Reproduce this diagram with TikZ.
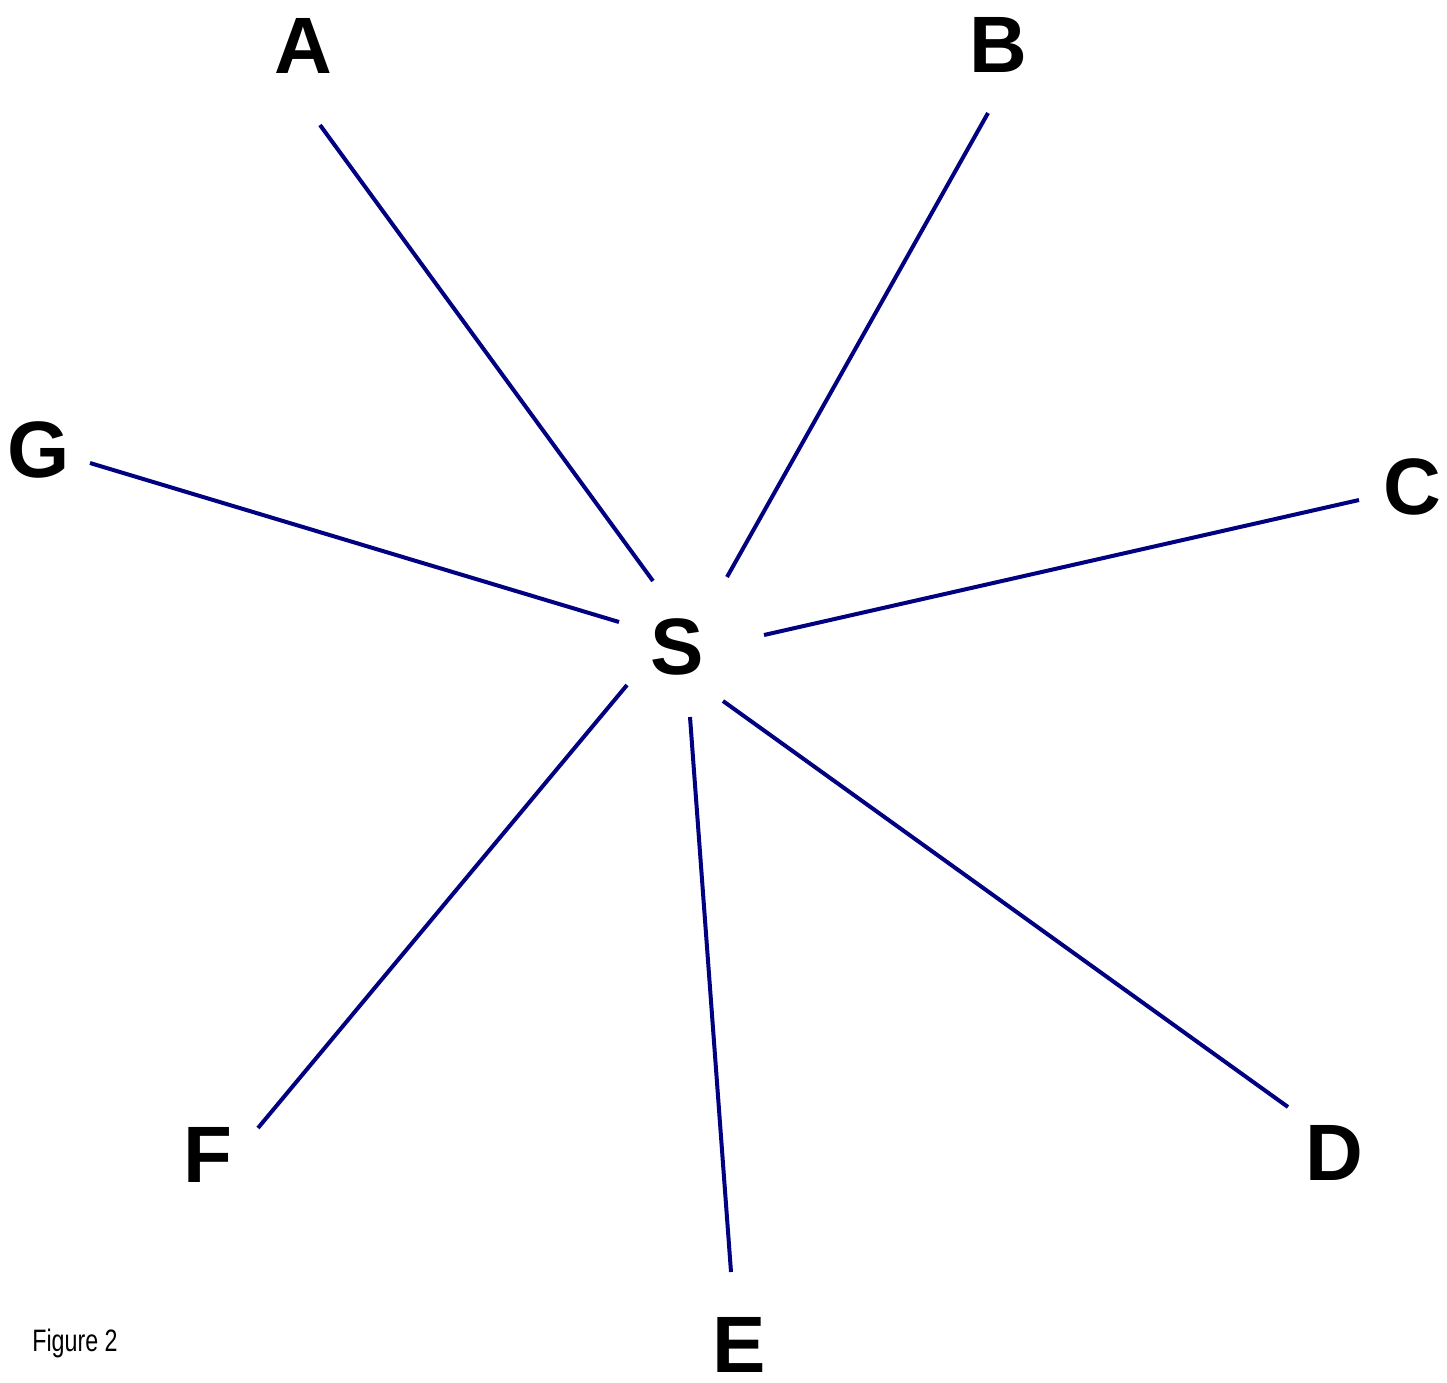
\documentclass[tikz,border=0pt]{standalone}
\usepackage{fontspec}
\setmainfont{Liberation Sans}
\newfontfamily\narrowfont[FakeStretch=0.75]{Liberation Sans}
\definecolor{navyline}{RGB}{0,0,128}
\begin{document}
\begin{tikzpicture}[x=1pt,y=-1pt,
  lbl/.style={inner sep=0pt,font=\fontsize{80}{80}\selectfont\bfseries},
  ray/.style={draw=navyline,line width=4pt}]
\useasboundingbox (0,0) rectangle (1447,1382);
\node[lbl] (S) at (677,647) {S};
\node[lbl] (A) at (303,46) {A};
\node[lbl] (B) at (998,45) {B};
\node[lbl] (C) at (1412,487) {C};
\node[lbl] (G) at (39,450) {G};
\node[lbl] (F) at (208,1155) {F};
\node[lbl] (D) at (1334,1153) {D};
\node[lbl] (E) at (739,1345) {E};
\node[inner sep=0pt,font=\narrowfont\fontsize{31}{31}\selectfont] (fig) at (75,1343) {Figure 2};
\coordinate (a1) at (653,581); \coordinate (a2) at (320,125);
\coordinate (b1) at (727,577); \coordinate (b2) at (988,113);
\coordinate (c1) at (764,635); \coordinate (c2) at (1359,500);
\coordinate (g1) at (619,622); \coordinate (g2) at (90,463);
\coordinate (f1) at (627,685); \coordinate (f2) at (258,1128);
\coordinate (e1) at (690,717); \coordinate (e2) at (731,1272);
\coordinate (d1) at (723,701); \coordinate (d2) at (1288,1107);
\draw[ray] (a1) -- (a2);
\draw[ray] (b1) -- (b2);
\draw[ray] (c1) -- (c2);
\draw[ray] (g1) -- (g2);
\draw[ray] (f1) -- (f2);
\draw[ray] (e1) -- (e2);
\draw[ray] (d1) -- (d2);
\end{tikzpicture}
\end{document}
